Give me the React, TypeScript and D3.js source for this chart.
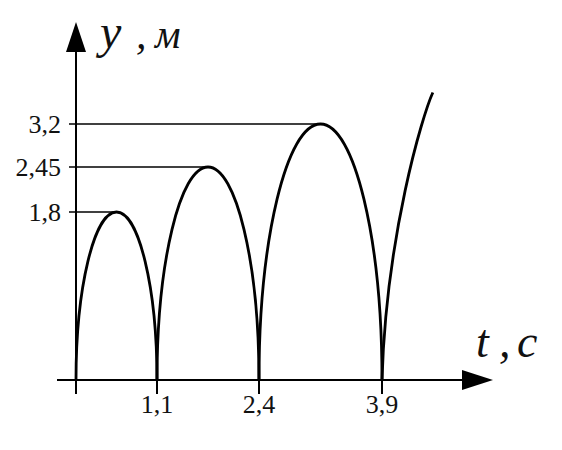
import React from "react";
import * as d3 from "d3";

// bounce moments (s) and the heights reached between them (m)
const bounceTimes = [0, 1.1, 2.4, 3.9];
const peakHeights = [1.8, 2.45, 3.2];
const xTickLabels = ["1,1", "2,4", "3,9"];
const yTickLabels = ["1,8", "2,45", "3,2"];
// where the last, unfinished arc leaves the picture
const lastArcEnd = { t: 4.52, y: 3.75 };

const W = 562;
const H = 450;

const App: React.FC = () => {
  // the sketch is not to scale, so the scales are piecewise (polylinear)
  const x = d3.scaleLinear().domain(bounceTimes).range([76, 157, 259, 382]);
  const y = d3.scaleLinear().domain([0, ...peakHeights]).range([380, 212, 167, 124]);

  const y0 = y(0);
  const k = 0.55; // bezier handle for a quarter ellipse

  const arcs = peakHeights.map((h, i) => {
    const xa = x(bounceTimes[i]);
    const xb = x(bounceTimes[i + 1]);
    const xm = (xa + xb) / 2;
    const yt = y(h);
    const p = d3.path();
    p.moveTo(xa, y0);
    p.bezierCurveTo(xa, y0 - k * (y0 - yt), xm - k * (xm - xa), yt, xm, yt);
    p.bezierCurveTo(xm + k * (xb - xm), yt, xb, y0 - k * (y0 - yt), xb, y0);
    return p.toString();
  });

  const lastPath = (() => {
    const xa = x(bounceTimes[bounceTimes.length - 1]);
    const xe = x(lastArcEnd.t);
    const ye = y(lastArcEnd.y);
    const dx = xe - xa;
    const dy = ye - y0;
    const p = d3.path();
    p.moveTo(xa, y0);
    p.bezierCurveTo(xa + 0.08 * dx, y0 + 0.5 * dy, xa + 0.8 * dx, y0 + 0.923 * dy, xe, ye);
    return p.toString();
  })();

  const axisX0 = x(0);
  const font = "'Liberation Serif', 'Times New Roman', serif";

  return (
    <svg width={W} height={H} style={{ position: "absolute", left: 0, top: 0, background: "#fff" }}>
      {/* x axis */}
      <line x1={57} x2={465} y1={y0} y2={y0} stroke="#000" strokeWidth={2} />
      <path d={`M493,${y0}L462,${y0 - 10}L462,${y0 + 10}Z`} fill="#000" />
      {/* y axis */}
      <line x1={axisX0} x2={axisX0} y1={394} y2={50} stroke="#000" strokeWidth={2} />
      <path d={`M${axisX0},22L${axisX0 - 10},52L${axisX0 + 10},52Z`} fill="#000" />

      {/* x ticks */}
      {bounceTimes.map((t, i) => (
        <g key={`xt${i}`}>
          <line x1={x(t)} x2={x(t)} y1={y0} y2={394} stroke="#000" strokeWidth={2} />
          {i > 0 && (
            <text x={x(t)} y={413} textAnchor="middle" fontFamily={font} fontSize={26} fill="#111">
              {xTickLabels[i - 1]}
            </text>
          )}
        </g>
      ))}

      {/* y ticks with guides to the peaks */}
      {peakHeights.map((h, i) => (
        <g key={`yt${i}`}>
          <line
            x1={69}
            x2={(x(bounceTimes[i]) + x(bounceTimes[i + 1])) / 2}
            y1={y(h)}
            y2={y(h)}
            stroke="#000"
            strokeWidth={1.6}
          />
          <text x={61} y={y(h) + 9} textAnchor="end" fontFamily={font} fontSize={26} fill="#111">
            {yTickLabels[i]}
          </text>
        </g>
      ))}

      {/* trajectory */}
      {arcs.map((d, i) => (
        <path key={`a${i}`} d={d} fill="none" stroke="#000" strokeWidth={2.8} />
      ))}
      <path d={lastPath} fill="none" stroke="#000" strokeWidth={2.8} />

      {/* axis titles */}
      <text fontFamily={font} fontStyle="italic" fill="#111" y={48}>
        <tspan x={100} fontSize={48}>y</tspan>
        <tspan x={136} fontSize={42}>,</tspan>
        <tspan x={155} fontSize={40}>м</tspan>
      </text>
      <text fontFamily={font} fontStyle="italic" fontSize={46} fill="#111" y={357}>
        <tspan x={476}>t</tspan>
        <tspan x={499}>,</tspan>
        <tspan x={517}>c</tspan>
      </text>
    </svg>
  );
};

export default App;
